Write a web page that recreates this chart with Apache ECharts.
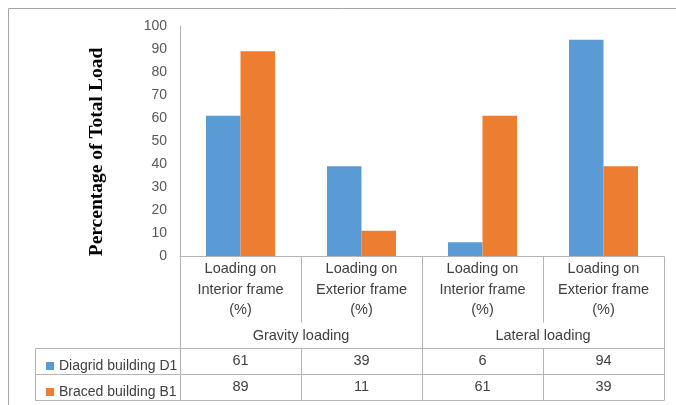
<!DOCTYPE html>
<html>
<head>
<meta charset="utf-8">
<script src="https://cdn.jsdelivr.net/npm/echarts@6/dist/echarts.min.js"></script>
<style>
  html, body { margin: 0; padding: 0; background: #fff; }
  #chart { width: 676px; height: 405px; }
</style>
</head>
<body>
<div id="chart"></div>
<script>
// Load share carried by interior and exterior frames
const categories = [
  'Loading on\nInterior frame\n(%)',
  'Loading on\nExterior frame\n(%)',
  'Loading on\nInterior frame\n(%)',
  'Loading on\nExterior frame\n(%)'
];
const groups = ['Gravity loading', 'Lateral loading'];
const seriesNames = ['Diagrid building D1', 'Braced building B1'];
const diagridValues = [61, 39, 6, 94];
const bracedValues = [89, 11, 61, 39];
const yTicks = [0, 10, 20, 30, 40, 50, 60, 70, 80, 90, 100];

const FONT = 'Liberation Sans';
const BLUE = '#5B9BD5';
const ORANGE = '#ED7D31';
const LINE = '#B4B4B4';

const chart = echarts.init(document.getElementById('chart'), null, { renderer: 'canvas' });

const option = {
  animation: false,
  backgroundColor: '#fff',
  grid: { left: 180, right: 12, top: 26, bottom: 149, containLabel: false },
  xAxis: {
    type: 'category',
    data: categories,
    axisLine: { show: true, lineStyle: { color: LINE, width: 1 } },
    axisTick: { show: false },
    axisLabel: {
      interval: 0, margin: 3, color: '#404040',
      fontFamily: FONT, fontSize: 14.5, lineHeight: 20.5
    }
  },
  yAxis: {
    type: 'value',
    min: yTicks[0], max: yTicks[yTicks.length - 1], interval: 10,
    axisLine: { show: true, lineStyle: { color: LINE, width: 1 } },
    axisTick: { show: false },
    splitLine: { show: false },
    axisLabel: { margin: 13, color: '#595959', fontFamily: FONT, fontSize: 14 }
  },
  legend: {
    orient: 'vertical', left: 41, top: 353,
    icon: 'rect', itemWidth: 8, itemHeight: 8, itemGap: 10,
    textStyle: { color: '#404040', fontFamily: FONT, fontSize: 14, lineHeight: 16 },
    data: seriesNames
  },
  series: [
    { name: seriesNames[0], type: 'bar', data: diagridValues, barGap: '0%', barCategoryGap: '43%',
      itemStyle: { color: BLUE } },
    { name: seriesNames[1], type: 'bar', data: bracedValues, barGap: '0%', barCategoryGap: '43%',
      itemStyle: { color: ORANGE } }
  ]
};
chart.setOption(option);

// Data table, group labels and frame drawn around the axis bands
function buildTable() {
  const centers = categories.map((c, i) => chart.convertToPixel({ xAxisIndex: 0 }, i));
  const band = centers[1] - centers[0];
  const edges = [centers[0] - band / 2].concat(centers.map(c => c + band / 2));
  const y0 = chart.convertToPixel({ yAxisIndex: 0 }, 0);
  const rowTop = 348, rowMid = 374, rowBot = 400, innerBottom = 322, tableLeft = 35;
  const els = [];
  const line = (x1, y1, x2, y2) => els.push({
    type: 'line', silent: true,
    shape: { x1: Math.round(x1) + 0.5, y1: Math.round(y1) + 0.5, x2: Math.round(x2) + 0.5, y2: Math.round(y2) + 0.5 },
    style: { stroke: LINE, lineWidth: 1 }
  });
  // outer chart frame
  els.push({ type: 'rect', silent: true, shape: { x: 8.5, y: 8.5, width: 700, height: 420 },
    style: { fill: null, stroke: '#A6A6A6', lineWidth: 1 } });
  // horizontal rules of the table
  [rowTop, rowMid, rowBot].forEach(y => line(tableLeft, y, edges[4], y));
  line(tableLeft, rowTop, tableLeft, rowBot);
  // vertical rules: group boundaries run full height, inner ones break for group labels
  edges.forEach((x, i) => {
    if (i % 2 === 0) {
      line(x, y0, x, rowBot);
    } else {
      line(x, y0, x, innerBottom);
      line(x, rowTop, x, rowBot);
    }
  });
  // group labels
  groups.forEach((g, gi) => {
    els.push({ type: 'text', silent: true, x: (edges[gi * 2] + edges[gi * 2 + 2]) / 2, y: 336,
      style: { text: g, fill: '#404040', font: '14.5px ' + FONT, align: 'center', verticalAlign: 'middle' } });
  });
  // values
  [diagridValues, bracedValues].forEach((vals, r) => {
    vals.forEach((v, i) => {
      els.push({ type: 'text', silent: true, x: centers[i], y: r === 0 ? 361 : 387,
        style: { text: String(v), fill: '#404040', font: '14.5px ' + FONT, align: 'center', verticalAlign: 'middle' } });
    });
  });
  // axis title
  els.push({ type: 'text', silent: true, x: 97, y: 152, rotation: Math.PI / 2,
    style: { text: 'Percentage of Total Load', fill: '#000', font: 'bold 19.5px "Liberation Serif"',
      align: 'center', verticalAlign: 'middle' } });
  chart.setOption({ graphic: els });
}
buildTable();
</script>
</body>
</html>
